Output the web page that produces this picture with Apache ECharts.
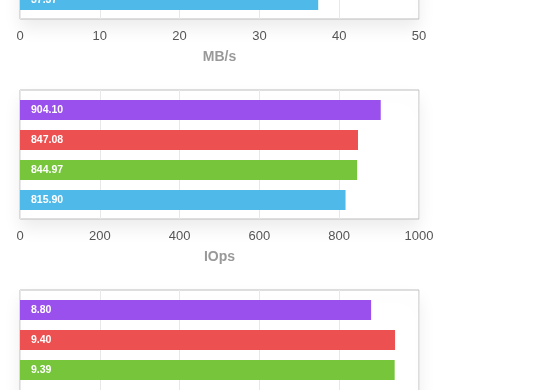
<!DOCTYPE html>
<html><head><meta charset="utf-8">
<script src="https://cdn.jsdelivr.net/npm/echarts@6/dist/echarts.min.js"></script>
<style>html,body{margin:0;padding:0;background:#fff;overflow:hidden;width:560px;height:390px}#c{width:560px;height:560px;margin-top:-110px}</style>
</head><body><div id="c"></div>
<script>
// categories top-to-bottom
const categories = ['A', 'B', 'C', 'D'];
const barColors = ['#9a50ec', '#ec5050', '#76c53a', '#4fb9ea'];
// panel 1: throughput (only the lowest bar is visible in the crop)
const mbsValues = [null, null, null, 37.37];
const mbsTicks = [0, 10, 20, 30, 40, 50];
// panel 2: IOps
const iopsValues = [904.10, 847.08, 844.97, 815.90];
const iopsTicks = [0, 200, 400, 600, 800, 1000];
// panel 3: (lowest bar out of view)
const thirdValues = [8.80, 9.40, 9.39, null];
const thirdTicks = [0, 2, 4, 6, 8, 10];

const panels = [
  {name: 'MB/s', values: mbsValues, ticks: mbsTicks, top: 0},
  {name: 'IOps', values: iopsValues, ticks: iopsTicks, top: 200},
  {name: '', values: thirdValues, ticks: thirdTicks, top: 400}
];

const font = 'Liberation Sans, Arial, sans-serif';
const grid = [], xAxis = [], yAxis = [], series = [];
panels.forEach((p, i) => {
  const max = p.ticks[p.ticks.length - 1];
  const interval = p.ticks[1] - p.ticks[0];
  grid.push({left: 20, width: 399, top: p.top, height: 129, show: true,
    backgroundColor: '#fff', borderColor: '#bdbdbd', borderWidth: 1,
    shadowBlur: 16, shadowColor: 'rgba(0,0,0,0.08)', shadowOffsetY: 9});
  xAxis.push({type: 'value', gridIndex: 2 * i, min: p.ticks[0], max: max, interval: interval,
    axisLine: {show: false}, axisTick: {show: false},
    splitLine: {show: true, lineStyle: {color: '#e8e8e8', width: 1}},
    axisLabel: {color: '#555', fontSize: 13, margin: 11, fontFamily: font, formatter: v => String(v)},
    name: p.name, nameLocation: 'middle', nameGap: 31,
    nameTextStyle: {color: '#999', fontSize: 14, fontWeight: 'bold', fontFamily: font}});
  yAxis.push({type: 'value', gridIndex: 2 * i, show: false});
  grid.push({left: 20, width: 399, top: p.top + 5, height: 120});
  xAxis.push({type: 'value', gridIndex: 2 * i + 1, min: p.ticks[0], max: max, show: false});
  yAxis.push({type: 'category', gridIndex: 2 * i + 1, data: categories, inverse: true, show: false});
  series.push({type: 'bar', xAxisIndex: 2 * i + 1, yAxisIndex: 2 * i + 1, barWidth: 20,
    data: p.values.map((v, k) => ({value: v, itemStyle: {color: barColors[k]}})),
    label: {show: true, position: 'insideLeft', distance: 11, color: '#fff', fontSize: 10.5,
      fontWeight: 'bold', fontFamily: font,
      formatter: d => d.value == null ? '' : d.value.toFixed(2)},
    silent: true, animation: false});
});

const chart = echarts.init(document.getElementById('c'), null, {renderer: 'canvas'});
chart.setOption({animation: false, grid, xAxis, yAxis, series});
</script></body></html>
